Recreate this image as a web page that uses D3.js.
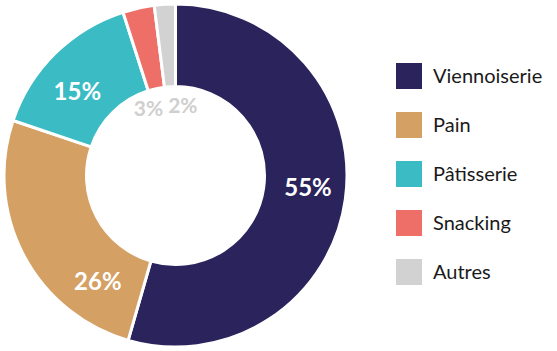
<!DOCTYPE html>
<html>
<head>
<meta charset="utf-8">
<script src="https://cdn.jsdelivr.net/npm/d3@7"></script>
<style>
  body { margin: 0; background: #fff; }
  svg { display: block; }
</style>
</head>
<body>
<svg id="chart" width="557" height="351"></svg>
<script>
// données
const categories = ["Viennoiserie", "Pain", "Pâtisserie", "Snacking", "Autres"];
const values = [55, 26, 15, 3, 2];
const labels = ["55%", "26%", "15%", "3%", "2%"];
const colors = ["#2a235c", "#d4a063", "#3bbcc5", "#ee6f67", "#d2d2d2"];

const svg = d3.select("#chart");
const cx = 175.5, cy = 175.5;
const outerR = 171.5, innerR = 89;

const pie = d3.pie().sort(null).value(d => d);
const arcs = pie(values);
const arc = d3.arc().innerRadius(innerR).outerRadius(outerR);

const g = svg.append("g").attr("transform", `translate(${cx},${cy})`);

g.selectAll("path")
  .data(arcs)
  .enter()
  .append("path")
  .attr("d", arc)
  .attr("fill", (d, i) => colors[i])
  .attr("stroke", "#fff")
  .attr("stroke-width", 3);

// placement des étiquettes : décalage d'angle (degrés) et rayon
const labelShift = [-3, -26, -5, 0, 0];
const labelR = [133, 131, 129, 72, 70];
const inside = [true, true, true, false, false];

g.selectAll("text.lbl")
  .data(arcs)
  .enter()
  .append("text")
  .attr("class", "lbl")
  .attr("transform", (d, i) => {
    let a = (d.startAngle + d.endAngle) / 2 + labelShift[i] * Math.PI / 180;
    if (!inside[i]) a = i == 3 ? -22 * Math.PI / 180 : 6 * Math.PI / 180;
    return `translate(${Math.sin(a) * labelR[i]},${-Math.cos(a) * labelR[i]})`;
  })
  .attr("text-anchor", "middle")
  .attr("dy", "0.36em")
  .attr("font-family", "Lato, sans-serif")
  .attr("font-weight", "bold")
  .attr("font-size", (d, i) => inside[i] ? 24 : 21)
  .attr("fill", (d, i) => inside[i] ? "#fff" : "#cfcfcf")
  .text((d, i) => labels[i]);

// légende
const legend = svg.append("g").attr("transform", "translate(396,63)");
const rows = legend.selectAll("g")
  .data(categories)
  .enter()
  .append("g")
  .attr("transform", (d, i) => `translate(0,${i * 49})`);

rows.append("rect")
  .attr("width", 26)
  .attr("height", 26)
  .attr("fill", (d, i) => colors[i]);

rows.append("text")
  .attr("x", 37)
  .attr("y", 13)
  .attr("dy", "0.36em")
  .attr("font-family", "Lato, sans-serif")
  .attr("font-size", 20)
  .attr("fill", "#1a1a1a")
  .text(d => d);
</script>
</body>
</html>
